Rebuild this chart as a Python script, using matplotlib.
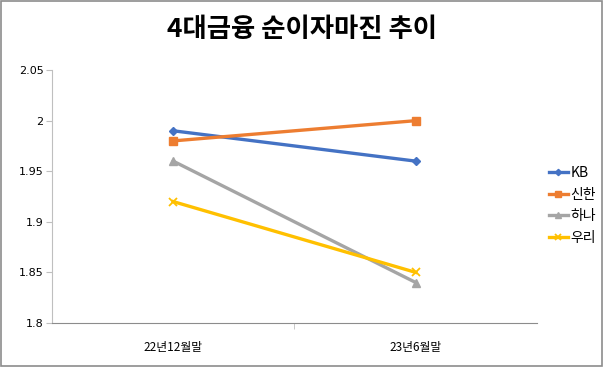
import matplotlib
matplotlib.use('Agg')
from matplotlib import pyplot as plt
from matplotlib.patches import Rectangle

plt.rcParams['font.family'] = ['Noto Sans CJK KR', 'DejaVu Sans']

categories = ['22년12월말', '23년6월말']
kb = [1.99, 1.96]
shinhan = [1.98, 2.00]
hana = [1.96, 1.84]
woori = [1.92, 1.85]
series_names = ['KB', '신한', '하나', '우리']
y_ticks = [1.8, 1.85, 1.9, 1.95, 2, 2.05]
y_tick_labels = ['1.8', '1.85', '1.9', '1.95', '2', '2.05']

colors = ['#4472C4', '#ED7D31', '#A5A5A5', '#FFC000']
markers = ['D', 's', '^', 'x']
sizes = [4, 6, 6, 6]

fig = plt.figure(figsize=(6.04, 3.67), dpi=100)
fig.patches.append(Rectangle((0.002, 0.003), 0.995, 0.994, transform=fig.transFigure,
                             fill=False, edgecolor='#8c8c8c', linewidth=1.2))
ax = fig.add_axes([0.086, 0.12, 0.803, 0.689])

x = [0, 1]
for vals, name, c, m, s in zip([kb, shinhan, hana, woori], series_names, colors, markers, sizes):
    ax.plot(x, vals, color=c, marker=m, markersize=s, linewidth=2.4, label=name,
            markeredgewidth=1.3 if m == 'x' else 1)

ax.set_xlim(-0.5, 1.5)
ax.set_ylim(1.8, 2.05)
ax.set_yticks(y_ticks)
ax.set_yticklabels(y_tick_labels, fontsize=8, family=['DejaVu Sans'])
ax.set_xticks([0, 1])
ax.set_xticklabels(categories, fontsize=8.5)
ax.set_xticks([0.5], minor=True)
ax.tick_params(axis='x', which='major', length=0, pad=13)
ax.tick_params(axis='x', which='minor', length=4, color='#bfbfbf', direction='out')
ax.tick_params(axis='y', length=4, color='#bfbfbf', pad=2)
for side in ['top', 'right']:
    ax.spines[side].set_visible(False)
ax.spines['left'].set_color('#bfbfbf')
ax.spines['bottom'].set_color('#8c8c8c')

fig.text(0.5, 0.92, '4대금융 순이자마진 추이', ha='center', va='center',
         fontsize=19, fontweight='bold')

leg = ax.legend(loc='center left', bbox_to_anchor=(1.0, 0.465), frameon=False,
                fontsize=10, handlelength=1.3, handletextpad=0.2, labelspacing=0.55,
                markerscale=0.8)

fig.savefig('out.png', dpi=100)
